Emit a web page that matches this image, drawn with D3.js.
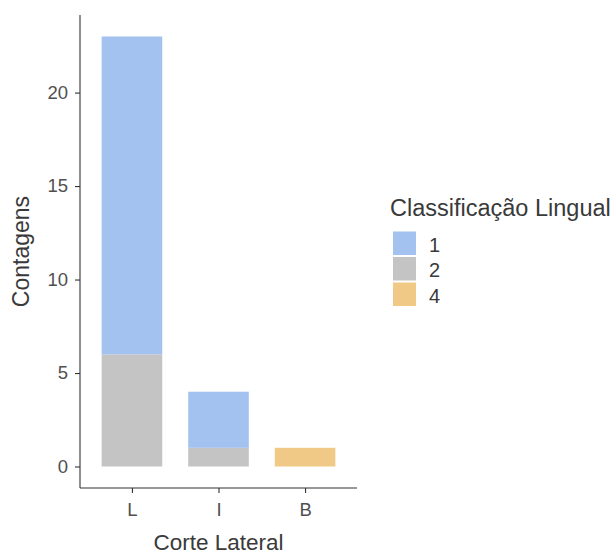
<!DOCTYPE html>
<html>
<head>
<meta charset="utf-8">
<script src="https://cdn.jsdelivr.net/npm/d3@7"></script>
<style>
  html, body { margin: 0; padding: 0; background: #fff; }
  svg { display: block; font-family: "Liberation Sans", Arial, sans-serif; }
</style>
</head>
<body>
<svg id="chart" width="614" height="555"></svg>
<script>
// Counts per lateral cut, split by lingual classification
const categories = ["L", "I", "B"];
const classes = ["1", "2", "4"];
const class1 = [17, 3, 0];
const class2 = [6, 1, 0];
const class4 = [0, 0, 1];
const yTicks = [0, 5, 10, 15, 20];
const classColors = ["#a4c2ef", "#c4c4c4", "#efc985"];

const rows = categories.map((c, i) => ({ cat: c, "1": class1[i], "2": class2[i], "4": class4[i] }));

const svg = d3.select("#chart");
const plot = { left: 80, right: 357, top: 15, bottom: 488 };

const totals = rows.map(r => classes.reduce((s, k) => s + r[k], 0));
const yMax = d3.max(totals);
const pad = yMax * 0.05;

const x = d3.scalePoint().domain(categories).range([plot.left, plot.right]).padding(0.6);
const y = d3.scaleLinear().domain([-pad, yMax + pad]).range([plot.bottom, plot.top]);
const color = d3.scaleOrdinal().domain(classes).range(classColors);
const barW = x.step() * 0.7;

// First class level sits on top of the stack
const stack = d3.stack().keys(classes.slice().reverse());
const series = stack(rows);

svg.append("g").selectAll("g").data(series).join("g")
  .attr("fill", d => color(d.key))
  .selectAll("rect").data(d => d.filter(s => s[1] - s[0] > 0)).join("rect")
  .attr("x", d => x(d.data.cat) - barW / 2)
  .attr("width", barW)
  .attr("y", d => y(d[1]))
  .attr("height", d => y(d[0]) - y(d[1]));

// Axes
const yAxis = svg.append("g").attr("transform", `translate(${plot.left},0)`)
  .call(d3.axisLeft(y).tickValues(yTicks).tickSize(5).tickPadding(7).tickSizeOuter(0));
const xAxis = svg.append("g").attr("transform", `translate(0,${plot.bottom})`)
  .call(d3.axisBottom(x).tickSize(5).tickPadding(10).tickSizeOuter(0));

[yAxis, xAxis].forEach(a => {
  a.select(".domain").attr("stroke", "#333").attr("stroke-width", 1.1);
  a.selectAll(".tick line").attr("stroke", "#333").attr("stroke-width", 1.1);
  a.selectAll(".tick text").attr("fill", "#505050").style("font-size", "18.5px")
    .style("font-family", "\"Liberation Sans\", Arial, sans-serif");
});
// Axis lines span the full panel
yAxis.select(".domain").attr("d", `M0,${plot.bottom}V${plot.top}`);
xAxis.select(".domain").attr("d", `M${plot.left},0H${plot.right}`);

svg.append("text")
  .attr("x", (plot.left + plot.right) / 2).attr("y", 550)
  .attr("text-anchor", "middle").attr("fill", "#3a3a3a").style("font-size", "22.5px")
  .text("Corte Lateral");
svg.append("text")
  .attr("transform", `translate(29,${(plot.top + plot.bottom) / 2}) rotate(-90)`)
  .attr("text-anchor", "middle").attr("fill", "#3a3a3a").style("font-size", "23px")
  .text("Contagens");

// Legend
const legend = svg.append("g").attr("transform", "translate(390,0)");
legend.append("text").attr("x", 0).attr("y", 216)
  .attr("fill", "#3a3a3a").style("font-size", "23.5px").text("Classificação Lingual");
const keyH = 25.5;
const items = legend.selectAll("g.item").data(classes).join("g").attr("class", "item")
  .attr("transform", (d, i) => `translate(3,${231.5 + i * keyH})`);
items.append("rect").attr("width", 23).attr("height", keyH - 2).attr("fill", d => color(d));
items.append("text").attr("x", 36).attr("y", keyH / 2 + 7.5)
  .attr("fill", "#3a3a3a").style("font-size", "20px").text(d => d);
</script>
</body>
</html>
